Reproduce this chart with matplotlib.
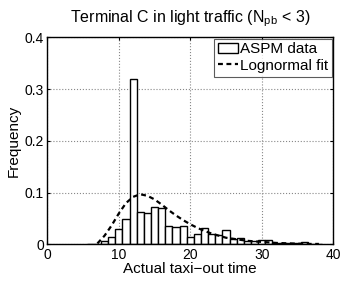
import matplotlib
matplotlib.use('Agg')
import matplotlib.pyplot as plt
import numpy as np
from matplotlib.ticker import FormatStrFormatter

plt.rcParams['font.family'] = ['Liberation Sans', 'DejaVu Sans']
plt.rcParams['mathtext.fontset'] = 'custom'
plt.rcParams['mathtext.rm'] = 'Liberation Sans'
plt.rcParams['mathtext.it'] = 'Liberation Sans'

# histogram bins (centres, width 1) and relative frequency
bin_centers = list(range(6, 39))
freq = [0.001, 0.001, 0.006, 0.015, 0.029, 0.049, 0.32, 0.062, 0.061, 0.072, 0.070,
        0.036, 0.034, 0.036, 0.0145, 0.020, 0.031, 0.021, 0.019, 0.028, 0.011,
        0.012, 0.006, 0.007, 0.008, 0.0095, 0.003, 0.003, 0.003, 0.002, 0.0045,
        0.0015, 0.0]

# lognormal fit
fit_x = [7, 8, 9, 10, 11, 12, 13, 14, 15, 16, 17, 18, 19, 20, 21, 22, 23, 24, 25,
         26, 27, 28, 29, 30, 31, 32, 33, 34, 35, 36, 37, 38]
fit_y = [0.002, 0.017, 0.037, 0.060, 0.080, 0.092, 0.097, 0.094, 0.087, 0.077,
         0.066, 0.056, 0.047, 0.039, 0.032, 0.026, 0.021, 0.017, 0.013, 0.011,
         0.009, 0.007, 0.006, 0.005, 0.004, 0.003, 0.0025, 0.002, 0.0015, 0.001,
         0.001, 0.001]

fig = plt.figure(figsize=(3.46, 2.81), dpi=100)
ax = fig.add_axes([0.137, 0.130, 0.826, 0.737])

bars = ax.bar(bin_centers, freq, width=1.0, color='white', edgecolor='black',
              linewidth=1.0, label='ASPM data', zorder=2)
line, = ax.plot(fit_x, fit_y, color='black', linestyle=(0, (2.2, 1.6)), linewidth=1.6,
                label='Lognormal fit', zorder=3)

ax.set_xlim(0, 40)
ax.set_ylim(0, 0.4)
ax.set_xticks([0, 10, 20, 30, 40])
ax.set_yticks([0, 0.1, 0.2, 0.3, 0.4])
ax.yaxis.set_major_formatter(FormatStrFormatter('%g'))
ax.grid(True, linestyle=':', color='#888888', linewidth=0.8, zorder=0)
ax.set_axisbelow(True)
ax.tick_params(direction='in', top=True, right=True, length=2.5, labelsize=10, pad=2.5)
for s in ax.spines.values():
    s.set_linewidth(1.0)

ax.set_xlabel('Actual taxi\u2212out time', fontsize=11, labelpad=0)
ax.set_ylabel('Frequency', fontsize=11, labelpad=3)
ax.set_title(r'Terminal C in light traffic (N$_{\rm pb}$ < 3)', fontsize=11.5, pad=11)

leg = ax.legend([bars, line], ['ASPM data', 'Lognormal fit'], loc='upper right',
                fontsize=11, frameon=True, fancybox=False,
                borderpad=0.25, labelspacing=0.15, handlelength=1.3,
                handletextpad=0.15, borderaxespad=0.08)
leg.get_frame().set_edgecolor('#333333')
leg.get_frame().set_linewidth(0.8)

fig.savefig('out.png', dpi=100)
